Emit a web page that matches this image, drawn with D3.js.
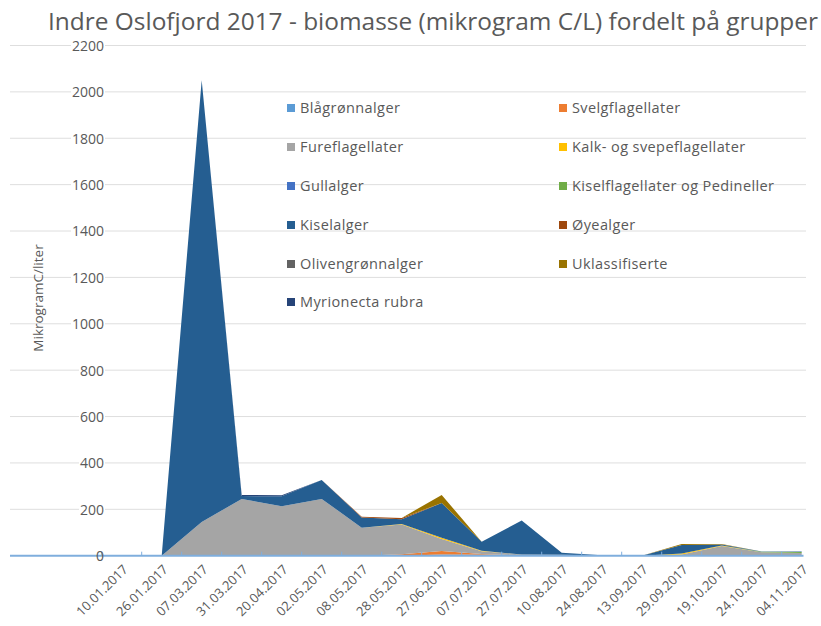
<!DOCTYPE html>
<html>
<head>
<meta charset="utf-8">
<script src="https://cdn.jsdelivr.net/npm/d3@7"></script>
<style>
  html, body { margin: 0; padding: 0; background: #fff; }
  svg { display: block; font-family: "Open Sans", "Liberation Sans", sans-serif; }
</style>
</head>
<body>
<svg id="chart" width="821" height="626"></svg>
<script>
const dates = ["10.01.2017","26.01.2017","07.03.2017","31.03.2017","20.04.2017","02.05.2017","08.05.2017","28.05.2017","27.06.2017","07.07.2017","27.07.2017","10.08.2017","24.08.2017","13.09.2017","29.09.2017","19.10.2017","24.10.2017","04.11.2017"];

const seriesNames = ["Blågrønnalger","Svelgflagellater","Fureflagellater","Kalk- og svepeflagellater","Gullalger","Kiselflagellater og Pedineller","Kiselalger","Øyealger","Olivengrønnalger","Uklassifiserte","Myrionecta rubra"];
const seriesColors = ["#5B9BD5","#ED7D31","#A5A5A5","#FFC000","#4472C4","#70AD47","#255E91","#9E480E","#636363","#997300","#264478"];

const blagronnalger   = [0,0,0,0,0,0,0,0,5,4,2,0,0,0,0,0,0,0];
const svelgflagellater= [0,0,0,0,0,0,0,6,15,3,0,0,0,0,0,0,0,0];
const fureflagellater = [0,0,145,245,213,245,121,129,52,12,3,4,1,0,5,42,15,12];
const kalkflagellater = [0,0,0,0,0,0,0,2,5,2,0,0,0,0,5,2,0,0];
const gullalger       = [0,0,0,0,0,0,0,0,0,0,0,0,0,0,0,0,0,0];
const kiselflagPed    = [0,0,0,0,0,0,0,0,0,0,0,0,0,0,0,0,2,4];
const kiselalger      = [0,0,1905,12,43,81,44,20,150,39,147,9,1,0,36,4,1,2];
const oyealger        = [0,0,0,0,0,0,3,6,0,0,0,0,0,0,0,0,0,0];
const olivengronn     = [0,0,0,0,0,0,0,0,0,0,0,0,0,0,0,0,0,0];
const uklassifiserte  = [0,0,0,0,0,0,0,0,35,0,0,0,0,0,4,2,0,0];
const myrionecta      = [0,0,0,5,5,0,0,0,0,0,0,0,0,0,0,0,0,0];

const seriesValues = [blagronnalger,svelgflagellater,fureflagellater,kalkflagellater,gullalger,kiselflagPed,kiselalger,oyealger,olivengronn,uklassifiserte,myrionecta];
const yTicks = [0,200,400,600,800,1000,1200,1400,1600,1800,2000,2200];

const title = "Indre Oslofjord 2017 - biomasse (mikrogram C/L) fordelt på grupper";
const yTitle = "MikrogramC/liter";

const svg = d3.select("#chart");
const textColor = "#595959";

const x = d3.scalePoint().domain(dates).range([121.7, 801.7]);
const y = d3.scaleLinear().domain([0, 2200]).range([555.7, 45.5]);

const table = dates.map((d, i) => {
  const row = { date: d };
  seriesNames.forEach((s, j) => row[s] = seriesValues[j][i]);
  return row;
});

// gridlines
svg.append("g").selectAll("line").data(yTicks.filter(t => t > 0)).join("line")
  .attr("x1", 10).attr("x2", 806)
  .attr("y1", d => y(d)).attr("y2", d => y(d))
  .attr("stroke", "#DEDEDE").attr("stroke-width", 1);

// stacked areas
const stack = d3.stack().keys(seriesNames).order(d3.stackOrderNone).offset(d3.stackOffsetNone);
const stacked = stack(table);
const area = d3.area()
  .x(d => x(d.data.date))
  .y0(d => y(d[0]))
  .y1(d => y(d[1]));

svg.append("g").selectAll("path").data(stacked).join("path")
  .attr("d", area)
  .attr("fill", (d, i) => seriesColors[i]);

// baseline axis line
svg.append("line")
  .attr("x1", 10).attr("x2", 803.5)
  .attr("y1", y(0)).attr("y2", y(0))
  .attr("stroke", "#7FAEDD").attr("stroke-width", 2);

// x tick marks between categories
const step = x.step();
const tickPos = dates.map(d => x(d) - step / 2).filter(v => v > 10);
svg.append("g").selectAll("line").data(tickPos).join("line")
  .attr("x1", d => d).attr("x2", d => d)
  .attr("y1", y(0) - 4).attr("y2", y(0))
  .attr("stroke", "#7FAEDD").attr("stroke-width", 1);

// y axis labels
const yAxis = d3.axisLeft(y).tickValues(yTicks).tickFormat(d3.format("d")).tickSize(0).tickPadding(0);
const yg = svg.append("g").attr("transform", "translate(104,0)").call(yAxis);
yg.select(".domain").remove();
yg.selectAll("text")
  .attr("fill", textColor)
  .style("font-size", "14px")
  .style("font-family", "'Open Sans', sans-serif")
  .attr("dy", "0.35em");
yg.selectAll(".tick").each(function(d) {
  if (d === 0) return;
  const t = d3.select(this);
  const bb = t.select("text").node().getBBox();
  t.insert("rect", "text")
    .attr("x", bb.x - 1).attr("y", bb.y + 2)
    .attr("width", bb.width + 2).attr("height", bb.height - 4)
    .attr("fill", "#fff");
});

// x axis labels
const xAxis = d3.axisBottom(x).tickSize(0).tickPadding(0);
const xg = svg.append("g").attr("transform", `translate(0,${y(0)})`).call(xAxis);
xg.select(".domain").remove();
xg.selectAll("text")
  .attr("fill", textColor)
  .style("font-size", "13px")
  .style("font-family", "'Open Sans', sans-serif")
  .attr("text-anchor", "end")
  .attr("dy", null).attr("y", null)
  .attr("transform", "translate(4,12) rotate(-45)")
  .attr("dominant-baseline", "middle");

// title
svg.append("text")
  .attr("x", 48).attr("y", 30)
  .attr("fill", textColor)
  .style("font-size", "23px")
  .attr("textLength", 770)
  .attr("lengthAdjust", "spacingAndGlyphs")
  .text(title);

// y title
svg.append("text")
  .attr("transform", "translate(43,298) rotate(-90)")
  .attr("text-anchor", "middle")
  .attr("fill", textColor)
  .style("font-size", "13.5px")
  .text(yTitle);

// legend
const legendCols = [287, 559];
const legendRows = [108, 147, 186, 225, 264, 302];
const lg = svg.append("g");
seriesNames.forEach((s, i) => {
  const col = i % 2, row = Math.floor(i / 2);
  const gx = legendCols[col], gy = legendRows[row];
  lg.append("rect").attr("x", gx).attr("y", gy - 4).attr("width", 8).attr("height", 8).attr("fill", seriesColors[i]);
  lg.append("text").attr("x", gx + 13).attr("y", gy).attr("dy", "0.35em")
    .attr("fill", textColor).style("font-size", "14.5px").style("letter-spacing", "0.4px").text(s);
});
</script>
</body>
</html>
